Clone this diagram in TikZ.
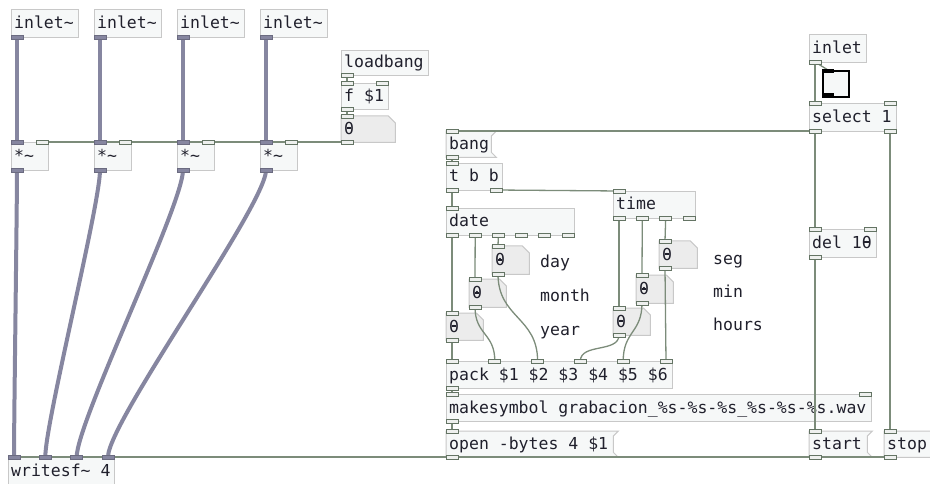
\documentclass[tikz,border=0pt]{standalone}
\usepackage{fontspec}
\newfontfamily\pdmono{DejaVu Sans Mono}
\usetikzlibrary{calc}
\pgfdeclarelayer{boxes}
\pgfdeclarelayer{ports}
\pgfsetlayers{boxes,main,ports}
\definecolor{boxline}{HTML}{C8C8C8}
\definecolor{boxfill}{HTML}{F6F8F8}
\definecolor{numfill}{HTML}{ECECEC}
\definecolor{portline}{HTML}{647464}
\definecolor{portfill}{HTML}{EEF0EE}
\definecolor{cablec}{HTML}{7C8C7A}
\definecolor{sigc}{HTML}{8686A0}
\definecolor{txtc}{HTML}{20202C}
\tikzset{
  objbox/.style={draw=boxline,fill=boxfill,line width=1pt,anchor=north west,inner sep=0pt,rectangle},
  holder/.style={anchor=north west,inner sep=0pt,rectangle},
  msgshape/.style={draw=boxline,fill=boxfill,line width=1pt},
  numshape/.style={draw=boxline,fill=numfill,line width=1pt},
  pdtext/.style={anchor=base west,inner sep=0pt,text=txtc,font=\pdmono\fontsize{16.5}{18}\selectfont},
  zdot/.style={fill=txtc},
  cport/.style={draw=portline,fill=portfill,line width=0.9pt},
  sport/.style={draw=sigc!80!black,fill=sigc,line width=0.6pt},
  cable/.style={draw=cablec,line width=1.3pt},
  sigcable/.style={draw=sigc,line width=4pt},
}
\newcommand\pdobj[6]{%
  \begin{pgfonlayer}{boxes}
  \node[objbox,minimum width=#4pt,minimum height=#5pt] (#1) at (#2,#3) {};
  \node[pdtext] (#1-t) at ($(#1.north west)+(3,{#5/2+5.5})$) {#6};
  \end{pgfonlayer}}
\newcommand\pdmsg[6]{%
  \begin{pgfonlayer}{boxes}
  \node[holder,minimum width=#4pt,minimum height=#5pt] (#1) at (#2,#3) {};
  \draw[msgshape] (#1.north west) -- (#1.north east) -- ++(-5,5) -- ($(#1.south east)+(-5,-5)$) -- (#1.south east) -- (#1.south west) -- cycle;
  \node[pdtext] (#1-t) at ($(#1.north west)+(3,{#5/2+5.5})$) {#6};
  \end{pgfonlayer}}
\newcommand\pdnum[6]{%
  \begin{pgfonlayer}{boxes}
  \node[holder,minimum width=#4pt,minimum height=#5pt] (#1) at (#2,#3) {};
  \draw[numshape] (#1.north west) -- ($(#1.north east)+(-7,0)$) -- ($(#1.north east)+(0,7)$) -- (#1.south east) -- (#1.south west) -- cycle;
  \node[pdtext] (#1-t) at ($(#1.north west)+(3,{#5/2+5.5})$) {#6};
  \end{pgfonlayer}%
  \zerodot{#1-t}{0}}
% bar inside the zero glyph (the font's dotted zero); #2 = index of the character
\newcommand\zerodot[2]{\fill[zdot] ($(#1.base west)+({#2*9.933+2.6},-7)$) rectangle ($(#1.base west)+({#2*9.933+7.3},-5)$);}
\newcommand\ctlport[3]{%
  \coordinate (#1) at ({#2+6},{#3});
  \begin{pgfonlayer}{ports}\draw[cport] ({#2},{#3-2}) rectangle ({#2+12},{#3+2});\end{pgfonlayer}}
\newcommand\sigport[3]{%
  \coordinate (#1) at ({#2+6},{#3});
  \begin{pgfonlayer}{ports}\draw[sport] ({#2},{#3-2}) rectangle ({#2+12},{#3+2});\end{pgfonlayer}}
\newcommand\cab[3]{\draw[cable] (#2) .. controls +(0,#1) and +(0,-#1) .. (#3);}
\newcommand\scab[3]{\draw[sigcable] (#2) .. controls +(0,#1) and +(0,-#1) .. (#3);}
\begin{document}
\begin{tikzpicture}[x=1pt,y=-1pt]
\useasboundingbox (0,0) rectangle (930,484);
\begin{pgfonlayer}{boxes}\fill[white] (0,0) rectangle (930,484);\end{pgfonlayer}
% ---- objects
\pdobj{in1}{11}{9}{67}{28}{inlet\textasciitilde}
\pdobj{in2}{94}{9}{67}{28}{inlet\textasciitilde}
\pdobj{in3}{177}{9}{67}{28}{inlet\textasciitilde}
\pdobj{in4}{260}{9}{67}{28}{inlet\textasciitilde}
\pdobj{mul1}{11}{142}{37}{28}{*\textasciitilde}
\pdobj{mul2}{94}{142}{37}{28}{*\textasciitilde}
\pdobj{mul3}{177}{142}{37}{28}{*\textasciitilde}
\pdobj{mul4}{260}{142}{37}{28}{*\textasciitilde}
\pdobj{lb}{341}{50}{87}{25}{loadbang}
\pdobj{f1}{341}{83}{47}{26}{f \$1}
\pdnum{n0}{341}{116}{54}{26}{0}
\pdmsg{bang}{446}{131}{50}{26}{bang}
\pdobj{tbb}{446}{163}{56}{27}{t b b}
\pdobj{date}{446}{208}{128}{27}{date}
\pdobj{time}{613}{191}{82}{27}{time}
\pdnum{day}{492}{246}{37}{28}{0}
\pdnum{month}{469}{279}{37}{28}{0}
\pdnum{year}{446}{313}{37}{27}{0}
\pdnum{seg}{659}{241}{38}{27}{0}
\pdnum{min}{636}{275}{37}{28}{0}
\pdnum{hours}{613}{308}{37}{27}{0}
\pdobj{pack}{446}{361}{226}{27}{pack \$1 \$2 \$3 \$4 \$5 \$6}
\pdobj{mks}{446}{394}{425}{27}{makesymbol grabacion\_\%s-\%s-\%s\_\%s-\%s-\%s.wav}
\pdmsg{open}{446}{431}{172}{26}{open -bytes 4 \$1}
\pdmsg{start}{809}{431}{63}{26}{start}
\pdmsg{stop}{884}{431}{60}{26}{stop}
\pdobj{wsf}{8}{457}{106}{28}{writesf\textasciitilde{} 4}
\pdobj{cin}{809}{34}{57}{28}{inlet}
\pdobj{sel}{809}{103}{87}{28}{select 1}
\pdobj{del}{809}{229}{67}{28}{del 10}
\zerodot{del-t}{5}
\begin{pgfonlayer}{boxes}
\node[draw=black,fill=boxfill,line width=2pt,anchor=north west,inner sep=0pt,minimum width=26pt,minimum height=26pt] (tgl) at (822,70) {};
\end{pgfonlayer}
% labels
\node[pdtext] (lday) at (540,268) {day};
\node[pdtext] (lmonth) at (540,301.5) {month};
\node[pdtext] (lyear) at (540,335) {year};
\node[pdtext] (lseg) at (713,265) {seg};
\node[pdtext] (lmin) at (713,297) {min};
\node[pdtext] (lhours) at (713,330) {hours};
% ---- ports
\sigport{in1o}{11}{37}\sigport{in2o}{94}{37}\sigport{in3o}{177}{37}\sigport{in4o}{260}{37}
\sigport{mul1i}{11}{142}\ctlport{mul1r}{36}{142}\sigport{mul1o}{11}{170}
\sigport{mul2i}{94}{142}\ctlport{mul2r}{119}{142}\sigport{mul2o}{94}{170}
\sigport{mul3i}{177}{142}\ctlport{mul3r}{202}{142}\sigport{mul3o}{177}{170}
\sigport{mul4i}{260}{142}\ctlport{mul4r}{285}{142}\sigport{mul4o}{260}{170}
\ctlport{lbo}{341}{75}
\ctlport{f1i}{341}{83}\ctlport{f1r}{376}{83}\ctlport{f1o}{341}{109}
\ctlport{n0i}{341}{116}\ctlport{n0o}{341}{142}
\ctlport{bangi}{446}{131}\ctlport{bango}{446}{157}
\ctlport{tbbi}{446}{163}\ctlport{tbbo1}{446}{190}\ctlport{tbbo2}{490}{190}
\ctlport{datei}{446}{208}
\ctlport{dateo1}{446}{235}\ctlport{dateo2}{469.2}{235}\ctlport{dateo3}{492.4}{235}\ctlport{dateo4}{515.6}{235}\ctlport{dateo5}{538.8}{235}\ctlport{dateo6}{562}{235}
\ctlport{timei}{613}{191}
\ctlport{timeo1}{613}{218}\ctlport{timeo2}{636.3}{218}\ctlport{timeo3}{659.7}{218}\ctlport{timeo4}{683}{218}
\ctlport{dayi}{492}{246}\ctlport{dayo}{492}{274}
\ctlport{monthi}{469}{279}\ctlport{montho}{469}{307}
\ctlport{yeari}{446}{313}\ctlport{yearo}{446}{340}
\ctlport{segi}{659}{241}\ctlport{sego}{659}{268}
\ctlport{mini}{636}{275}\ctlport{mino}{636}{303}
\ctlport{hoursi}{613}{308}\ctlport{hourso}{613}{335}
\ctlport{pack1}{446}{361}\ctlport{pack2}{488.8}{361}\ctlport{pack3}{531.6}{361}\ctlport{pack4}{574.4}{361}\ctlport{pack5}{617.2}{361}\ctlport{pack6}{660}{361}\ctlport{packo}{446}{388}
\ctlport{mksi}{446}{394}\ctlport{mksr}{859}{394}\ctlport{mkso}{446}{421}
\ctlport{openi}{446}{431}\ctlport{openo}{446}{457}
\ctlport{starti}{809}{431}\ctlport{starto}{809}{457}
\ctlport{stopi}{884}{431}\ctlport{stopo}{884}{457}
\sigport{wsf1}{8}{457}\sigport{wsf2}{39.3}{457}\sigport{wsf3}{70.7}{457}\sigport{wsf4}{102}{457}
\ctlport{cino}{809}{62}
\ctlport{seli1}{809}{103}\ctlport{seli2}{884}{103}\ctlport{selo1}{809}{131}\ctlport{selo2}{884}{131}
\ctlport{deli1}{809}{229}\ctlport{deli2}{864}{229}\ctlport{delo}{809}{257}
\coordinate (tgli) at (828,70);
\begin{pgfonlayer}{ports}
\fill[black] (822,69) rectangle (834,73);
\fill[black] (822,93) rectangle (834,97);
\end{pgfonlayer}
% ---- signal cables
\draw[sigcable] (in1o) -- (mul1i);
\draw[sigcable] (in2o) -- (mul2i);
\draw[sigcable] (in3o) -- (mul3i);
\draw[sigcable] (in4o) -- (mul4i);
\scab{35}{mul1o}{wsf1}
\scab{35}{mul2o}{wsf2}
\scab{35}{mul3o}{wsf3}
\scab{35}{mul4o}{wsf4}
% ---- control cables
\draw[cable] (lbo) -- (f1i);
\draw[cable] (f1o) -- (n0i);
\draw[cable] (n0o) -- (mul1r);
\draw[cable] (n0o) -- (mul2r);
\draw[cable] (n0o) -- (mul3r);
\draw[cable] (n0o) -- (mul4r);
\draw[cable] (cino) -- (seli1);
\draw[cable] (cino) -- (tgli);
\draw[cable] (selo1) -- (bangi);
\draw[cable] (selo1) -- (deli1);
\draw[cable] (selo2) -- (stopi);
\draw[cable] (delo) -- (starti);
\draw[cable] (bango) -- (tbbi);
\draw[cable] (tbbo1) -- (datei);
\draw[cable] (tbbo2) -- (timei);
\draw[cable] (dateo1) -- (yeari);
\draw[cable] (dateo2) -- (monthi);
\draw[cable] (dateo3) -- (dayi);
\draw[cable] (timeo1) -- (hoursi);
\draw[cable] (timeo2) -- (mini);
\draw[cable] (timeo3) -- (segi);
\draw[cable] (yearo) -- (pack1);
\cab{28}{montho}{pack2}
\cab{44}{dayo}{pack3}
\cab{18}{hourso}{pack4}
\cab{30}{mino}{pack5}
\draw[cable] (sego) -- (pack6);
\draw[cable] (packo) -- (mksi);
\draw[cable] (mkso) -- (openi);
\draw[cable] (openo) -- (wsf1);
\draw[cable] (starto) -- (wsf1);
\draw[cable] (stopo) -- (wsf1);
\end{tikzpicture}
\end{document}
